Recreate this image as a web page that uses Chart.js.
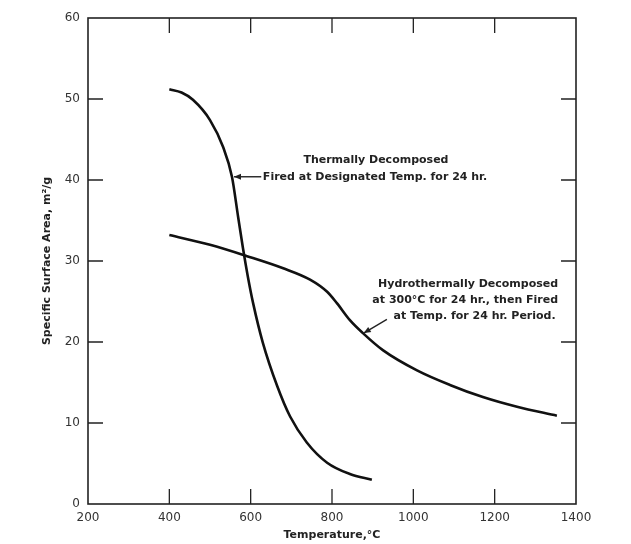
<!DOCTYPE html>
<html>
<head>
<meta charset="utf-8">
<script src="https://cdn.jsdelivr.net/npm/chart.js@4.4.1/dist/chart.umd.min.js"></script>
<style>
html,body{margin:0;padding:0;background:#fff;}
#wrap{width:631px;height:544px;position:relative;}
</style>
</head>
<body>
<div id="wrap"><canvas id="c" width="631" height="544"></canvas></div>
<script>
// Thermally decomposed, fired at designated temp for 24 hr
const thermalTemp = [400, 430, 458, 500, 532, 554, 569, 581, 593, 606, 630, 665, 697, 738, 788, 844, 898];
const thermalArea = [51.2, 50.8, 49.9, 47.4, 44.1, 40.4, 35.5, 31.6, 28.1, 24.8, 19.9, 14.6, 10.8, 7.6, 5.1, 3.7, 3.0];
// Hydrothermally decomposed at 300°C for 24 hr, then fired
const hydroTemp = [400, 500, 591, 680, 746, 788, 812, 844, 876, 925, 1009, 1090, 1171, 1255, 1353];
const hydroArea = [33.2, 32.0, 30.6, 29.1, 27.7, 26.2, 24.8, 22.7, 21.1, 19.0, 16.5, 14.7, 13.2, 12.0, 10.9];
const xTicks = [200, 400, 600, 800, 1000, 1200, 1400];
const yTicks = [0, 10, 20, 30, 40, 50, 60];

const FONT = '"DejaVu Sans", sans-serif';

const toXY = (xs, ys) => xs.map((x, i) => ({x: x, y: ys[i]}));

const framePlugin = {
  id: 'frame',
  afterDatasetsDraw(chart) {
    const {ctx, chartArea: a, scales: {x, y}} = chart;
    ctx.save();
    ctx.strokeStyle = '#222';
    ctx.lineWidth = 1.6;
    ctx.strokeRect(a.left, a.top, a.right - a.left, a.bottom - a.top);
    const L = 15;
    ctx.lineWidth = 1.3;
    ctx.beginPath();
    xTicks.slice(1, -1).forEach(v => {
      const px = x.getPixelForValue(v);
      ctx.moveTo(px, a.bottom); ctx.lineTo(px, a.bottom - L);
      ctx.moveTo(px, a.top); ctx.lineTo(px, a.top + L);
    });
    yTicks.slice(1, -1).forEach(v => {
      const py = y.getPixelForValue(v);
      ctx.moveTo(a.left, py); ctx.lineTo(a.left + L, py);
      ctx.moveTo(a.right, py); ctx.lineTo(a.right - L, py);
    });
    ctx.stroke();

    // annotations
    const X = v => x.getPixelForValue(v), Y = v => y.getPixelForValue(v);
    ctx.fillStyle = '#222';
    ctx.font = 'bold 11px ' + FONT;
    ctx.textBaseline = 'middle';
    ctx.textAlign = 'center';
    ctx.fillText('Thermally Decomposed', X(908), Y(42.5));
    ctx.textAlign = 'left';
    ctx.fillText('Fired at Designated Temp. for 24 hr.', X(630), Y(40.4));
    ctx.textAlign = 'right';
    ctx.fillText('Hydrothermally Decomposed', X(1356), Y(27.2));
    ctx.fillText('at 300°C for 24 hr., then Fired', X(1356), Y(25.2));
    ctx.fillText('at Temp. for 24 hr. Period.', X(1350), Y(23.2));

    const arrow = (x1, y1, x2, y2) => {
      ctx.strokeStyle = '#222';
      ctx.lineWidth = 1.4;
      ctx.beginPath(); ctx.moveTo(x1, y1); ctx.lineTo(x2, y2); ctx.stroke();
      const ang = Math.atan2(y2 - y1, x2 - x1);
      const h = 7, w = 3;
      ctx.beginPath();
      ctx.moveTo(x2, y2);
      ctx.lineTo(x2 - h * Math.cos(ang) + w * Math.sin(ang), y2 - h * Math.sin(ang) - w * Math.cos(ang));
      ctx.lineTo(x2 - h * Math.cos(ang) - w * Math.sin(ang), y2 - h * Math.sin(ang) + w * Math.cos(ang));
      ctx.closePath(); ctx.fill();
    };
    arrow(X(626), Y(40.4), X(559), Y(40.4));
    arrow(X(935), Y(22.8), X(878), Y(21.1));
    ctx.restore();
  }
};

new Chart(document.getElementById('c'), {
  type: 'line',
  data: {
    datasets: [
      {label: 'Thermally Decomposed', data: toXY(thermalTemp, thermalArea), borderColor: '#111', borderWidth: 2.6, pointRadius: 0, cubicInterpolationMode: 'monotone', fill: false},
      {label: 'Hydrothermally Decomposed', data: toXY(hydroTemp, hydroArea), borderColor: '#111', borderWidth: 2.6, pointRadius: 0, cubicInterpolationMode: 'monotone', fill: false}
    ]
  },
  options: {
    responsive: false,
    animation: false,
    layout: {padding: {top: 18, right: 55, left: 0, bottom: 0}},
    plugins: {legend: {display: false}, tooltip: {enabled: false}},
    scales: {
      x: {
        type: 'linear', min: 200, max: 1400,
        afterBuildTicks: s => { s.ticks = xTicks.map(v => ({value: v})); },
        afterFit: s => { s.height = 40; },
        ticks: {padding: 7, color: '#333', font: {family: FONT, size: 12}, callback: v => String(v)},
        grid: {display: false, drawTicks: false},
        border: {display: false},
        title: {display: true, text: 'Temperature,°C', color: '#222', font: {family: FONT, size: 11, weight: 'bold'}, padding: {top: 0, bottom: 2}}
      },
      y: {
        type: 'linear', min: 0, max: 60,
        afterBuildTicks: s => { s.ticks = yTicks.map(v => ({value: v})); },
        afterFit: s => { s.width = 88; },
        ticks: {padding: 8, color: '#333', font: {family: FONT, size: 12}, callback: v => String(v)},
        grid: {display: false, drawTicks: false},
        border: {display: false},
        title: {display: true, text: 'Specific Surface Area, m²/g', color: '#222', font: {family: FONT, size: 11, weight: 'bold'}, padding: {top: 41, bottom: 0}}
      }
    }
  },
  plugins: [framePlugin]
});
</script>
</body>
</html>
